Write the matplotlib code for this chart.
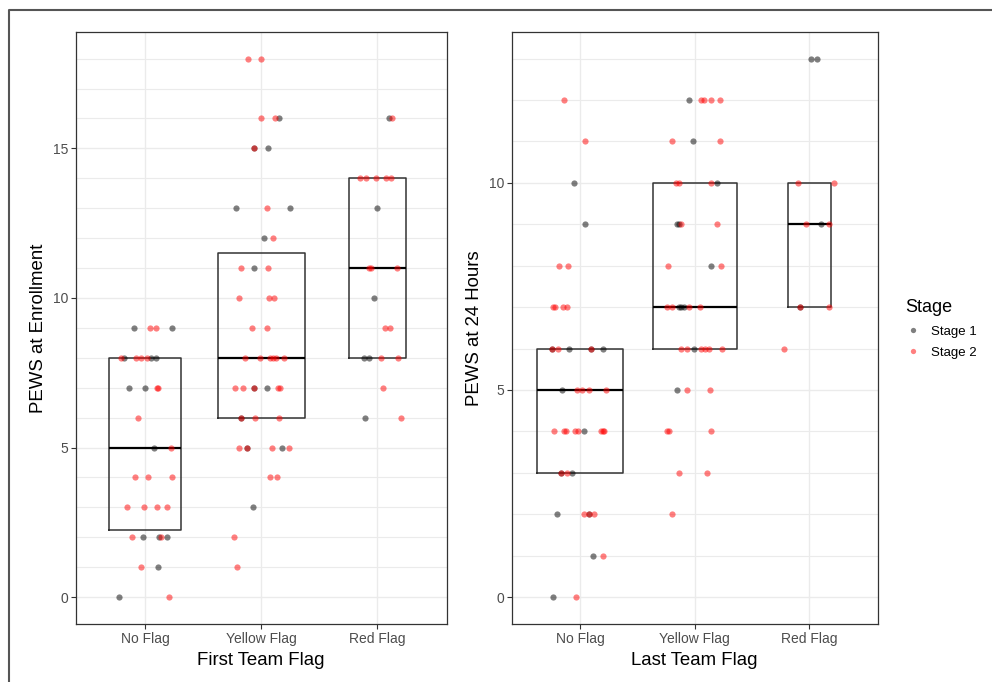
import matplotlib.pyplot as plt
from matplotlib.lines import Line2D
import numpy as np

plt.rcParams['font.family'] = ['Liberation Sans', 'DejaVu Sans']

flags = ['No Flag', 'Yellow Flag', 'Red Flag']
stage_names = ['Stage 1', 'Stage 2']
stage_colors = ['black', 'red']

# points: (PEWS, stage, horizontal jitter in category units)
enroll_no = [(9, 1, -0.10), (9, 2, 0.04), (9, 2, 0.091), (9, 1, 0.234),
             (8, 2, -0.21), (8, 1, -0.18), (8, 2, -0.077), (8, 2, -0.04), (8, 2, 0.017), (8, 1, 0.046), (8, 1, 0.091),
             (7, 1, -0.137), (7, 1, 0.0), (7, 2, 0.10), (7, 2, 0.111),
             (6, 2, -0.063),
             (5, 1, 0.074), (5, 2, 0.225),
             (4, 2, -0.091), (4, 2, 0.026), (4, 2, 0.231),
             (3, 2, -0.16), (3, 2, -0.009), (3, 2, 0.097), (3, 2, 0.185),
             (2, 2, -0.114), (2, 1, -0.02), (2, 1, 0.12), (2, 2, 0.134), (2, 1, 0.185),
             (1, 2, -0.034), (1, 1, 0.114),
             (0, 1, -0.228), (0, 2, 0.202)]
enroll_yellow = [(18, 2, -0.11), (18, 2, 0.0),
                 (16, 2, 0.0), (16, 2, 0.12), (16, 1, 0.15),
                 (15, 1, -0.06), (15, 2, -0.06), (15, 1, 0.06),
                 (13, 1, -0.216), (13, 2, 0.054), (13, 1, 0.245),
                 (12, 1, 0.026), (12, 2, 0.10),
                 (11, 2, -0.171), (11, 1, -0.066), (11, 2, 0.057),
                 (10, 2, -0.19), (10, 2, 0.068), (10, 2, 0.114),
                 (9, 2, -0.08), (9, 2, 0.054),
                 (8, 2, -0.137), (8, 2, -0.009), (8, 2, 0.074), (8, 2, 0.10), (8, 2, 0.125), (8, 2, 0.194),
                 (7, 2, -0.225), (7, 2, -0.157), (7, 1, -0.06), (7, 2, -0.06), (7, 1, 0.051), (7, 2, 0.142), (7, 2, 0.162),
                 (6, 1, -0.177), (6, 2, -0.177), (6, 2, -0.054), (6, 2, 0.154),
                 (5, 2, -0.194), (5, 1, -0.122), (5, 2, -0.122), (5, 2, 0.097), (5, 1, 0.177), (5, 2, 0.237),
                 (4, 2, 0.08), (4, 2, 0.134),
                 (3, 1, -0.068),
                 (2, 2, -0.237),
                 (1, 2, -0.211)]
enroll_red = [(16, 1, 0.105), (16, 2, 0.13),
              (14, 2, -0.145), (14, 2, -0.097), (14, 2, -0.011), (14, 2, 0.08), (14, 2, 0.122),
              (13, 1, 0.0),
              (11, 2, -0.074), (11, 2, -0.057), (11, 2, 0.174),
              (10, 1, -0.03),
              (9, 2, 0.068), (9, 2, 0.108),
              (8, 1, -0.111), (8, 1, -0.066), (8, 2, 0.037), (8, 2, 0.177),
              (7, 2, 0.054),
              (6, 1, -0.103), (6, 2, 0.205)]

hours_no = [(12, 2, -0.14),
            (11, 2, 0.044),
            (10, 1, -0.055),
            (9, 1, 0.044),
            (8, 2, -0.186), (8, 2, -0.11),
            (7, 2, -0.235), (7, 2, -0.22), (7, 2, -0.154), (7, 2, -0.113),
            (6, 1, -0.247), (6, 2, -0.247), (6, 2, -0.195), (6, 1, -0.096), (6, 1, 0.09), (6, 2, 0.09), (6, 1, 0.195),
            (5, 1, -0.16), (5, 2, -0.032), (5, 2, 0.017), (5, 2, 0.076), (5, 2, 0.221),
            (4, 2, -0.233), (4, 2, -0.14), (4, 2, -0.122), (4, 2, -0.046), (4, 2, -0.017), (4, 1, 0.029),
            (4, 2, 0.18), (4, 2, 0.198), (4, 2, 0.209),
            (3, 1, -0.166), (3, 2, -0.166), (3, 2, -0.119), (3, 1, -0.07),
            (2, 1, -0.203), (2, 2, 0.035), (2, 1, 0.072), (2, 2, 0.072), (2, 2, 0.119),
            (1, 1, 0.111), (1, 2, 0.2),
            (0, 1, -0.235), (0, 2, -0.041)]
hours_yellow = [(12, 1, -0.05), (12, 2, 0.052), (12, 2, 0.081), (12, 2, 0.142), (12, 2, 0.218),
                (11, 2, -0.2), (11, 1, -0.015), (11, 2, 0.221),
                (10, 2, -0.163), (10, 2, -0.14), (10, 2, 0.145), (10, 1, 0.195),
                (9, 1, -0.157), (9, 1, -0.134), (9, 2, -0.119), (9, 2, 0.198),
                (8, 2, -0.23), (8, 1, 0.142), (8, 2, 0.227),
                (7, 2, -0.244), (7, 2, -0.195), (7, 1, -0.14), (7, 1, -0.119), (7, 1, -0.096), (7, 2, -0.046), (7, 2, 0.046),
                (6, 2, -0.119), (6, 2, -0.067), (6, 1, -0.006), (6, 2, 0.058), (6, 2, 0.093), (6, 2, 0.128), (6, 2, 0.238),
                (5, 1, -0.157), (5, 2, -0.067), (5, 2, 0.133),
                (4, 2, -0.238), (4, 2, -0.227), (4, 2, 0.14),
                (3, 2, -0.137), (3, 2, 0.111),
                (2, 2, -0.2)]
hours_red = [(13, 1, 0.015), (13, 1, 0.07),
             (10, 2, -0.096), (10, 2, 0.215),
             (9, 2, -0.023), (9, 1, 0.107), (9, 2, 0.177),
             (7, 1, -0.076), (7, 2, -0.076), (7, 2, 0.177),
             (6, 2, -0.215)]

# box statistics (no whiskers in the original)
enroll_q1 = [2.25, 6, 8]
enroll_med = [5, 8, 11]
enroll_q3 = [8, 11.5, 14]
hours_q1 = [3, 6, 7]
hours_med = [5, 7, 9]
hours_q3 = [6, 10, 10]

W, H = 992, 682
fig = plt.figure(figsize=(W / 100, H / 100), dpi=100)


def panel(rect, groups, q1, med, q3, ymax, xlabel, ylabel):
    ax = fig.add_axes(rect)
    # box width scales with sqrt(n) like varwidth
    n = np.array([len(g) for g in groups])
    widths = 0.75 * np.sqrt(n / n.max())
    stats = [dict(q1=a, med=m, q3=b, whislo=a, whishi=b, fliers=[])
             for a, m, b in zip(q1, med, q3)]
    ax.bxp(stats, positions=range(3), widths=widths, showcaps=False,
           boxprops=dict(color='#333333', lw=1.1),
           medianprops=dict(color='black', lw=1.6),
           whiskerprops=dict(lw=0), manage_ticks=False)
    for i, g in enumerate(groups):
        pts = np.array(g, dtype=float)
        for s in (1, 2):
            sel = pts[:, 1] == s
            ax.scatter(i + pts[sel, 2], pts[sel, 0], s=20, color=stage_colors[s - 1],
                       alpha=0.5, linewidths=0, zorder=3)
    ax.set_xlim(-0.6, 2.6)
    ax.set_ylim(-0.05 * ymax, ymax * 1.05)
    ax.set_xticks(range(3))
    ax.set_xticklabels(flags)
    ax.set_yticks(range(0, ymax + 1, 5))
    ax.set_yticks(range(0, ymax + 1), minor=True)
    ax.grid(which='major', color='#ebebeb', lw=1.0)
    ax.grid(which='minor', axis='y', color='#ebebeb', lw=0.8)
    ax.set_axisbelow(True)
    ax.tick_params(which='major', colors='#333333', labelcolor='#4d4d4d',
                   labelsize=10, length=3.5, width=0.8, pad=2)
    ax.tick_params(which='minor', length=0)
    for sp in ax.spines.values():
        sp.set_color('#333333')
        sp.set_linewidth(0.9)
    ax.set_xlabel(xlabel, fontsize=13.4, labelpad=4.5)
    ax.set_ylabel(ylabel, fontsize=13.4, labelpad=4)
    return ax


panel([75.7 / W, 1 - 624 / H, 371 / W, 592.3 / H],
      [enroll_no, enroll_yellow, enroll_red], enroll_q1, enroll_med, enroll_q3,
      18, 'First Team Flag', 'PEWS at Enrollment')
panel([511.7 / W, 1 - 624 / H, 366 / W, 592.3 / H],
      [hours_no, hours_yellow, hours_red], hours_q1, hours_med, hours_q3,
      13, 'Last Team Flag', 'PEWS at 24 Hours')

handles = [Line2D([], [], marker='o', ls='', color=c, alpha=0.5, markersize=3.8,
                  markeredgewidth=0) for c in stage_colors]
leg = fig.legend(handles, stage_names, loc='center left',
                 bbox_to_anchor=(893 / W, 1 - 329 / H), frameon=False,
                 title='Stage', fontsize=9.5, title_fontsize=13,
                 handletextpad=0.8, labelspacing=0.7, handlelength=1.2,
                 alignment='left')

# frame edge seen along the top and left of the picture
fig.add_artist(Line2D([9 / W, 9 / W, 1], [0, 1 - 10 / H, 1 - 10 / H],
                      color='#555555', lw=1.5))

fig.savefig('out.png', dpi=100)
